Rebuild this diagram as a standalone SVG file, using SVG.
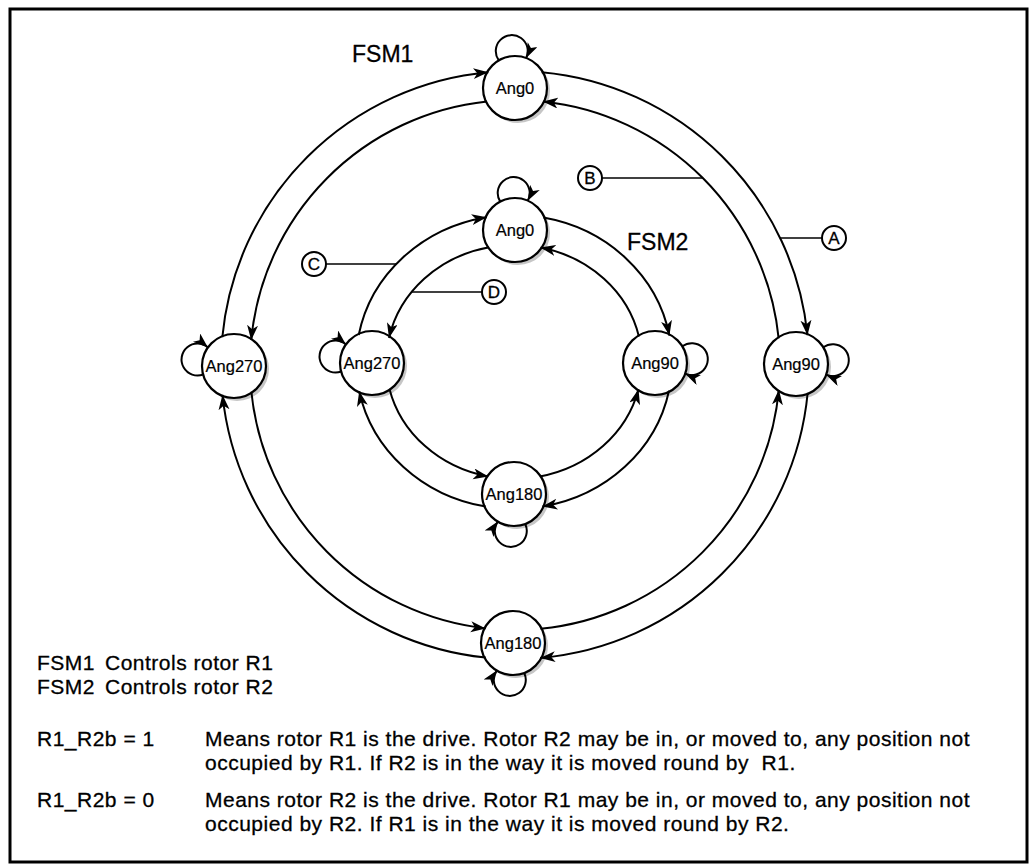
<svg xmlns="http://www.w3.org/2000/svg" width="1031" height="866" viewBox="0 0 1031 866">
<defs>
<marker id="ah" markerUnits="userSpaceOnUse" markerWidth="16" markerHeight="12" refX="15" refY="5.5" orient="auto">
<path d="M0,0 L15,5.5 L0,11 L4,5.5 z" fill="#000"/>
</marker>
<style>
.frame{fill:#fff;stroke:#000;stroke-width:3}
.shadow{fill:#c6c6c6}
.node{fill:#fff;stroke:#000;stroke-width:2.2}
.nl{font-family:"Liberation Sans",Arial,sans-serif;font-size:16.5px;text-anchor:middle;fill:#000;stroke:#000;stroke-width:0.2}
.arc{fill:none;stroke:#000;stroke-width:2;marker-end:url(#ah)}
.lead{fill:none;stroke:#000;stroke-width:1.5}
.cl{fill:#fff;stroke:#000;stroke-width:2}
.clt{font-family:"Liberation Sans",Arial,sans-serif;font-size:17px;text-anchor:middle;fill:#000;stroke:#000;stroke-width:0.3}
.big{font-family:"Liberation Sans",Arial,sans-serif;font-size:23px;fill:#000;stroke:#000;stroke-width:0.3}
.txt{font-family:"Liberation Sans",Arial,sans-serif;font-size:21px;letter-spacing:0.5px;fill:#000;stroke:#000;stroke-width:0.3;white-space:pre}
</style>
</defs>
<rect class="frame" x="10" y="9" width="1017" height="853"/>

<g id="fsm1-ang0"><circle class="shadow" cx="518" cy="91" r="32"/><circle class="node" cx="515" cy="88" r="32"/><text class="nl" x="515" y="94">Ang0</text></g>
<g id="fsm1-ang90"><circle class="shadow" cx="799" cy="367" r="32"/><circle class="node" cx="796" cy="364" r="32"/><text class="nl" x="796" y="370">Ang90</text></g>
<g id="fsm1-ang180"><circle class="shadow" cx="516" cy="646" r="32"/><circle class="node" cx="513" cy="643" r="32"/><text class="nl" x="513" y="649">Ang180</text></g>
<g id="fsm1-ang270"><circle class="shadow" cx="237" cy="369" r="32"/><circle class="node" cx="234" cy="366" r="32"/><text class="nl" x="234" y="372">Ang270</text></g>

<g id="fsm2-ang0"><circle class="shadow" cx="518" cy="233" r="32"/><circle class="node" cx="515" cy="230" r="32"/><text class="nl" x="515" y="236">Ang0</text></g>
<g id="fsm2-ang90"><circle class="shadow" cx="658" cy="366" r="32"/><circle class="node" cx="655" cy="363" r="32"/><text class="nl" x="655" y="369">Ang90</text></g>
<g id="fsm2-ang180"><circle class="shadow" cx="517" cy="497" r="32"/><circle class="node" cx="514" cy="494" r="32"/><text class="nl" x="514" y="500">Ang180</text></g>
<g id="fsm2-ang270"><circle class="shadow" cx="375" cy="366" r="32"/><circle class="node" cx="372" cy="363" r="32"/><text class="nl" x="372" y="369">Ang270</text></g>

<g id="connectors">
<path class="arc" d="M222.31,337.28 A294,294 0 0 1 488.30,72.21"/>
<path class="arc" d="M541.70,72.21 A294,294 0 0 1 807.49,335.24"/>
<path class="arc" d="M807.69,392.72 A294,294 0 0 1 540.22,657.92"/>
<path class="arc" d="M485.70,657.54 A294,294 0 0 1 222.49,394.76"/>
<path class="arc" d="M487.07,101.48 A265,265 0 0 0 251.17,340.16"/>
<path class="arc" d="M778.65,338.31 A265,265 0 0 0 542.93,101.48"/>
<path class="arc" d="M540.59,628.76 A265,265 0 0 0 778.83,389.85"/>
<path class="arc" d="M251.35,391.69 A265,265 0 0 0 485.74,628.38"/>
<path class="arc" d="M358.7,335.0 A158,147 0 0 1 486.75,217.2"/>
<path class="arc" d="M543.4,217.6 A158,147 0 0 1 669.4,335.6"/>
<path class="arc" d="M669.0,390.7 A158,147 0 0 1 542.3,506.6"/>
<path class="arc" d="M485.7,506.6 A158,147 0 0 1 359.2,391.2"/>
<path class="arc" d="M489.2,247.2 A128,117 0 0 0 389.0,338.0"/>
<path class="arc" d="M638.9,336.5 A128,117 0 0 0 540.5,247.5"/>
<path class="arc" d="M539.7,476.6 A128,117 0 0 0 638.5,389.3"/>
<path class="arc" d="M389.4,388.7 A128,117 0 0 0 488.3,476.6"/>
<path class="arc" d="M498.76,60.43 A16,16 0 1 1 526.21,58.03"/>
<path class="arc" d="M500.23,201.62 A16,16 0 1 1 527.76,200.65"/>
<path class="arc" d="M823.28,347.28 A16,16 0 1 1 826.16,374.68"/>
<path class="arc" d="M682.28,346.28 A16,16 0 1 1 685.16,373.68"/>
<path class="arc" d="M203.16,374.55 A16,16 0 1 1 207.95,347.42"/>
<path class="arc" d="M341.16,371.55 A16,16 0 1 1 345.95,344.42"/>
<path class="arc" d="M524.21,672.97 A16,16 0 1 1 496.76,670.57"/>
<path class="arc" d="M525.21,523.97 A16,16 0 1 1 497.76,521.57"/>
</g>

<g id="label-A"><line class="lead" x1="780" y1="238" x2="822" y2="238"/><circle class="cl" cx="834" cy="238" r="12"/><text class="clt" x="834" y="244">A</text></g>
<g id="label-B"><line class="lead" x1="602" y1="178" x2="703" y2="178"/><circle class="cl" cx="590" cy="178" r="12"/><text class="clt" x="590" y="184">B</text></g>
<g id="label-C"><line class="lead" x1="326" y1="264" x2="396" y2="264"/><circle class="cl" cx="314" cy="264" r="12"/><text class="clt" x="314" y="270">C</text></g>
<g id="label-D"><line class="lead" x1="411" y1="292" x2="482" y2="292"/><circle class="cl" cx="494" cy="292" r="12"/><text class="clt" x="494" y="298">D</text></g>

<text class="big" x="352" y="62">FSM1</text>
<text class="big" x="627" y="250">FSM2</text>

<g id="legend">
<text class="txt" x="37" y="670">FSM1</text><text class="txt" x="105" y="670">Controls rotor R1</text>
<text class="txt" x="37" y="694">FSM2</text><text class="txt" x="105" y="694">Controls rotor R2</text>
<text class="txt" x="37" y="746">R1_R2b = 1</text>
<text class="txt" x="205" y="746">Means rotor R1 is the drive. Rotor R2 may be in, or moved to, any position not</text>
<text class="txt" x="205" y="770">occupied by R1. If R2 is in the way it is moved round by  R1.</text>
<text class="txt" x="37" y="807">R1_R2b = 0</text>
<text class="txt" x="205" y="807">Means rotor R2 is the drive. Rotor R1 may be in, or moved to, any position not</text>
<text class="txt" x="205" y="831">occupied by R2. If R1 is in the way it is moved round by R2.</text>
</g>
</svg>
